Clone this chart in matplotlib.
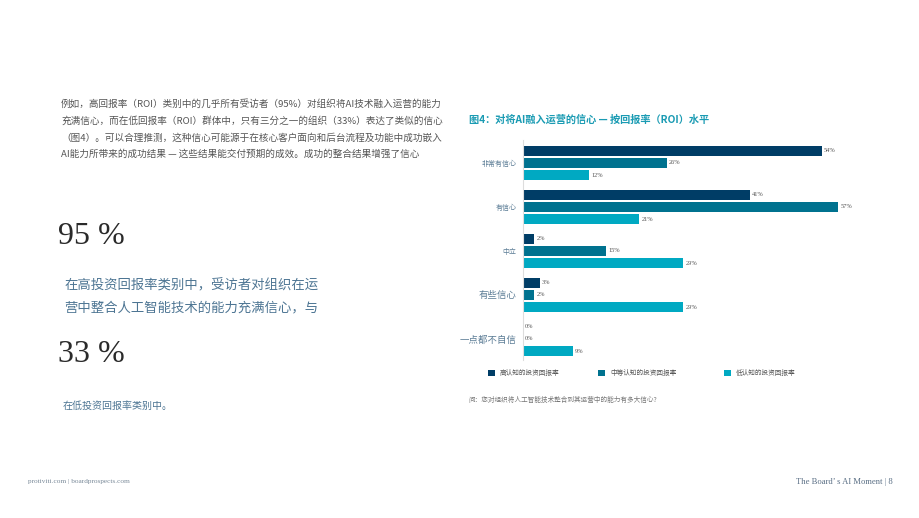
import matplotlib
matplotlib.use("Agg")
import matplotlib.pyplot as plt
import numpy as np

plt.rcParams['font.family'] = ['Noto Sans CJK SC', 'DejaVu Sans']

# chart data
categories = ["非常有信心", "有信心", "中立", "有些信心", "一点都不自信"]
high_roi = [54, 41, 2, 3, 0]
mid_roi = [26, 57, 15, 2, 0]
low_roi = [12, 21, 29, 29, 9]
series_names = ["高认知的投资回报率", "中等认知的投资回报率", "低认知的投资回报率"]
colors = ["#003d66", "#00728f", "#00a9c2"]
cat_sizes = [5, 5, 5, 6.8, 6.8]

W, H = 920, 518
fig = plt.figure(figsize=(W / 100, H / 100), dpi=100)
fig.patch.set_facecolor("white")

def fx(px):
    return px / W

def fy(py):
    return 1 - py / H

# left page text
para = ("例如，高回报率（ROI）类别中的几乎所有受访者（95%）对组织将AI技术融入运营的能力\n"
        "充满信心，而在低回报率（ROI）群体中，只有三分之一的组织（33%）表达了类似的信心\n"
        "（图4）。可以合理推测，这种信心可能源于在核心客户面向和后台流程及功能中成功嵌入\n"
        "AI能力所带来的成功结果 — 这些结果能交付预期的成效。成功的整合结果增强了信心")
fig.text(fx(61), fy(99), para, fontsize=6.9, color="#555555", va="top", ha="left",
         linespacing=1.95)

fig.text(fx(58), fy(236), "95 %", fontsize=23, color="#2a2a2a", va="center", ha="left",
         family="Liberation Serif")
fig.text(fx(64), fy(285), "在高投资回报率类别中，受访者对组织在运", fontsize=9.6,
         color="#4d7593", va="center", ha="left")
fig.text(fx(64), fy(307), "营中整合人工智能技术的能力充满信心，与", fontsize=9.6,
         color="#4d7593", va="center", ha="left")
fig.text(fx(58), fy(355), "33 %", fontsize=23, color="#2a2a2a", va="center", ha="left",
         family="Liberation Serif")
fig.text(fx(63), fy(406), "在低投资回报率类别中。", fontsize=7.2, color="#4d7593",
         va="center", ha="left")

# footer
fig.text(fx(28), fy(482), "protiviti.com | boardprospects.com", fontsize=5.2,
         color="#7a8a99", family="Liberation Serif", va="center", ha="left")
fig.text(fx(893), fy(482), "The Board’ s AI Moment | 8", fontsize=6.2,
         color="#5a6f85", family="Liberation Serif", va="center", ha="right")

# chart title
fig.text(fx(469), fy(120), "图4：对将AI融入运营的信心 — 按回报率（ROI）水平", fontsize=7.3,
         color="#1a9bb3", fontweight="bold", va="center", ha="left")

# bar chart
ax = fig.add_axes([fx(523), fy(360), fx(332), (360 - 140) / H])
y = np.arange(len(categories))
offset = 0.28
bh = 0.23
for i, (vals, col) in enumerate(zip([high_roi, mid_roi, low_roi], colors)):
    pos = y + (i - 1) * offset
    ax.barh(pos, vals, height=bh, color=col, label=series_names[i])
    for p, v in zip(pos, vals):
        ax.text(v + 0.4, p, f"{v}%", fontsize=4.6, color="#555555",
                family="Liberation Serif", va="center", ha="left")

ax.set_xlim(0, 60)
ax.set_ylim(4.48, -0.52)
ax.set_yticks(y)
ax.set_yticklabels(categories)
for lbl, s in zip(ax.get_yticklabels(), cat_sizes):
    lbl.set_fontsize(s)
    lbl.set_color("#5c7d96")
ax.tick_params(axis="y", length=0, pad=4.5)
ax.set_xticks([])
for side in ["top", "right", "bottom"]:
    ax.spines[side].set_visible(False)
ax.spines["left"].set_color("#dddddd")
ax.spines["left"].set_linewidth(0.8)

# legend entries, one per series
handles, labels = ax.get_legend_handles_labels()
for h, l, px in zip(handles, labels, [488, 598, 724]):
    fig.legend([h], [l], loc="center left", bbox_to_anchor=(fx(px), fy(373)),
               frameon=False, fontsize=4.8, handlelength=1.0, handleheight=1.0,
               handletextpad=0.8, borderpad=0, borderaxespad=0, labelcolor="#555555")

fig.text(fx(468), fy(400), "问：您对组织将人工智能技术整合到其运营中的能力有多大信心?",
         fontsize=4.8, color="#777777", va="center", ha="left")

fig.savefig("out.png", dpi=100)
